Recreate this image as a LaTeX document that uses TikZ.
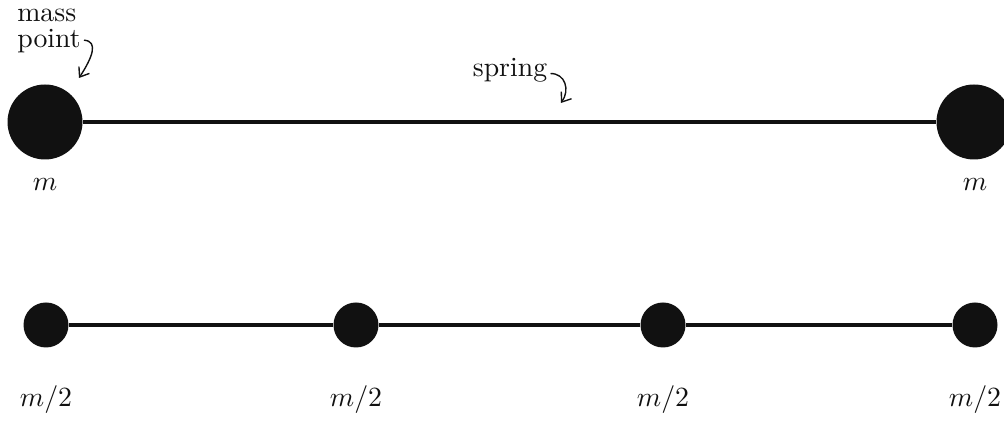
\documentclass[tikz,border=0pt]{standalone}
\usetikzlibrary{arrows.meta}
\definecolor{ink}{HTML}{111111}
\tikzset{
  every node/.style={text=ink},
  bigmass/.style={circle,fill=ink,draw=none,inner sep=0pt,minimum size=27pt},
  smallmass/.style={circle,fill=ink,draw=none,inner sep=0pt,minimum size=16.2pt},
  springtop/.style={draw=ink,line width=1.4pt},
  springbot/.style={draw=ink,line width=1.1pt},
  callout/.style={-{Straight Barb[length=3pt,width=4.5pt]},draw=ink,line width=0.5pt},
  lbl/.style={inner sep=0pt},
}

\begin{document}
\begin{tikzpicture}[x=0.36pt,y=-0.36pt]
  \useasboundingbox (0,0) rectangle (1004,421);
  % one spring, two masses
  \node[bigmass] (bigL) at (45,122) {};
  \node[bigmass] (bigR) at (974,122) {};
  \draw[springtop] (bigL) -- (bigR);
  \node[lbl] (mL) at (45,185) {$m$};
  \node[lbl] (mR) at (975,185) {$m$};
  % callouts
  \node[lbl,align=left] (masspt) at (49,31) {mass\\[-2.6pt]point};
  \coordinate (masstip) at (79,78);
  \draw[callout] ([xshift=1pt,yshift=4.8pt]masspt.south east) .. controls ++(15,1) and ++(13,-20) .. (masstip);
  \node[lbl,anchor=base] (springtxt) at (510,77) {spring};
  \coordinate (springtip) at (561,103);
  \draw[callout] ([xshift=1pt,yshift=-1pt]springtxt.east) .. controls ++(15,0) and ++(9,-13) .. (springtip);
  % three springs, four masses
  \foreach \i/\x in {1/46,2/356,3/663,4/975}{
    \node[smallmass] (s\i) at (\x,325) {};
    \node[lbl] (h\i) at (\x,400) {$m/2$};
  }
  \draw[springbot] (s1) -- (s2);
  \draw[springbot] (s2) -- (s3);
  \draw[springbot] (s3) -- (s4);
\end{tikzpicture}
\end{document}
